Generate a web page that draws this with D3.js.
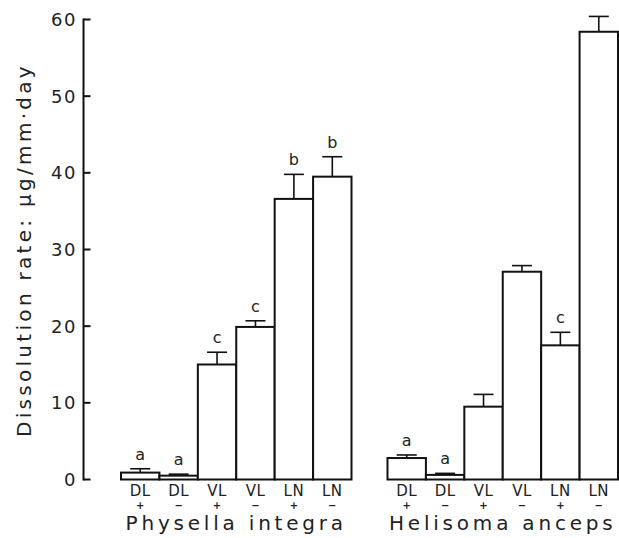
<!DOCTYPE html>
<html>
<head>
<meta charset="utf-8">
<script src="https://cdn.jsdelivr.net/npm/d3@7"></script>
<style>
  body { margin: 0; background: #fff; }
  svg { display: block; }
  text { font-family: "DejaVu Sans", "Liberation Sans", sans-serif; fill: #222; }
</style>
</head>
<body>
<div id="chart"></div>
<script>
// ---- data ----
const species = ["Physella integra", "Helisoma anceps"];
const treatments = ["DL+", "DL-", "VL+", "VL-", "LN+", "LN-"];
const treatmentNames = ["DL", "DL", "VL", "VL", "LN", "LN"];
const treatmentSigns = ["+", "−", "+", "−", "+", "−"];
const physellaMean = [0.9, 0.5, 15.0, 19.9, 36.6, 39.5];
const physellaErr = [0.5, 0.2, 1.6, 0.8, 3.2, 2.6];
const physellaLetters = ["a", "a", "c", "c", "b", "b"];
const helisomaMean = [2.8, 0.6, 9.5, 27.1, 17.5, 58.4];
const helisomaErr = [0.4, 0.2, 1.6, 0.8, 1.7, 2.0];
const helisomaLetters = ["a", "a", "", "", "c", ""];
const yTicks = [0, 10, 20, 30, 40, 50, 60];
const yLabel = "Dissolution rate: μg/mm·day";

const groups = [
  { name: species[0], mean: physellaMean, err: physellaErr, letters: physellaLetters },
  { name: species[1], mean: helisomaMean, err: helisomaErr, letters: helisomaLetters }
];

// ---- layout ----
const W = 619, H = 538;
const svg = d3.select("#chart").append("svg").attr("width", W).attr("height", H);

const y = d3.scaleLinear().domain([0, 60]).range([479.5, 19.5]);
const xGroup = d3.scaleBand().domain(species).range([121, 618]).paddingInner(0.135);
const xInner = d3.scaleBand().domain(treatments).range([0, xGroup.bandwidth()]).padding(0);

// y axis
const axisX = 83.5;
svg.append("line")
  .attr("x1", axisX).attr("x2", axisX)
  .attr("y1", y(60) - 1).attr("y2", y(0) + 1)
  .attr("stroke", "#111").attr("stroke-width", 2);
const tickG = svg.append("g");
tickG.selectAll("line").data(yTicks).join("line")
  .attr("x1", axisX).attr("x2", axisX + 7)
  .attr("y1", d => y(d)).attr("y2", d => y(d))
  .attr("stroke", "#111").attr("stroke-width", 2);
tickG.selectAll("text").data(yTicks).join("text")
  .attr("x", 77).attr("y", d => y(d))
  .attr("dy", "0.36em")
  .attr("text-anchor", "end")
  .attr("font-size", 18)
  .attr("letter-spacing", 1.5)
  .attr("fill", "#333")
  .text(d => d);

svg.append("text")
  .attr("transform", `translate(31, ${250}) rotate(-90)`)
  .attr("text-anchor", "middle")
  .attr("font-size", 20)
  .attr("letter-spacing", 3.3)
  .attr("fill", "#333")
  .text(yLabel);

// bars
groups.forEach(g => {
  const gx = xGroup(g.name);
  const G = svg.append("g").attr("transform", `translate(${gx},0)`);
  const data = treatments.map((t, i) => ({
    t, name: treatmentNames[i], sign: treatmentSigns[i],
    mean: g.mean[i], err: g.err[i], letter: g.letters[i]
  }));

  // error bars (drawn first)
  const capW = 20;
  G.selectAll("line.err").data(data).join("line").attr("class", "err")
    .attr("x1", d => xInner(d.t) + xInner.bandwidth() / 2)
    .attr("x2", d => xInner(d.t) + xInner.bandwidth() / 2)
    .attr("y1", d => y(d.mean)).attr("y2", d => y(d.mean + d.err))
    .attr("stroke", "#111").attr("stroke-width", 1.6);
  G.selectAll("line.cap").data(data).join("line").attr("class", "cap")
    .attr("x1", d => xInner(d.t) + xInner.bandwidth() / 2 - capW / 2)
    .attr("x2", d => xInner(d.t) + xInner.bandwidth() / 2 + capW / 2)
    .attr("y1", d => y(d.mean + d.err)).attr("y2", d => y(d.mean + d.err))
    .attr("stroke", "#111").attr("stroke-width", 1.6);

  G.selectAll("rect").data(data).join("rect")
    .attr("x", d => xInner(d.t))
    .attr("y", d => y(d.mean))
    .attr("width", xInner.bandwidth())
    .attr("height", d => y(0) - y(d.mean))
    .attr("fill", "#fff")
    .attr("stroke", "#111").attr("stroke-width", 2);

  // significance letters
  G.selectAll("text.letter").data(data.filter(d => d.letter)).join("text").attr("class", "letter")
    .attr("x", d => xInner(d.t) + xInner.bandwidth() / 2)
    .attr("y", d => y(d.mean + d.err) - 9)
    .attr("text-anchor", "middle")
    .attr("font-size", 16)
    .text(d => d.letter);

  // category labels
  G.selectAll("text.cat").data(data).join("text").attr("class", "cat")
    .attr("x", d => xInner(d.t) + xInner.bandwidth() / 2)
    .attr("y", 496)
    .attr("text-anchor", "middle")
    .attr("font-size", 15)
    .attr("letter-spacing", 0.5)
    .attr("fill", "#333")
    .text(d => d.name);
  G.selectAll("text.sign").data(data).join("text").attr("class", "sign")
    .attr("x", d => xInner(d.t) + xInner.bandwidth() / 2)
    .attr("y", 509)
    .attr("text-anchor", "middle")
    .attr("font-size", 10)
    .attr("font-weight", "bold")
    .attr("fill", "#333")
    .text(d => d.sign);

  G.append("text")
    .attr("x", xGroup.bandwidth() / 2)
    .attr("y", 530)
    .attr("text-anchor", "middle")
    .attr("font-size", 20)
    .attr("letter-spacing", 3.8)
    .attr("fill", "#222")
    .text(g.name);
});
</script>
</body>
</html>
